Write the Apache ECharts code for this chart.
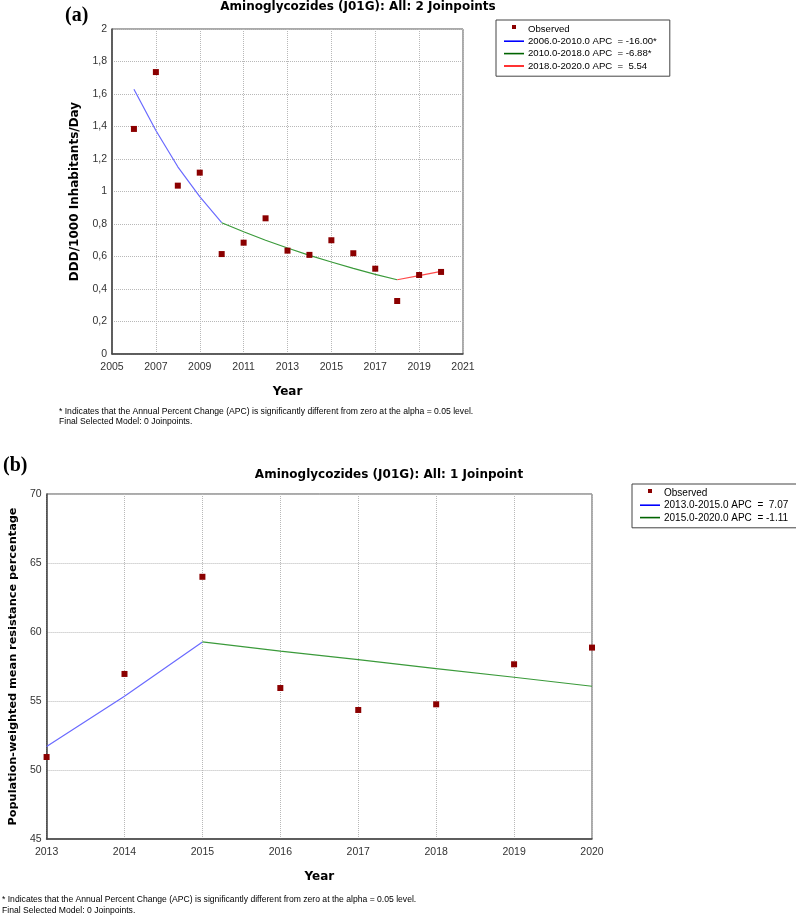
<!DOCTYPE html>
<html>
<head>
<meta charset="utf-8">
<script src="https://cdn.jsdelivr.net/npm/echarts@6/dist/echarts.min.js"></script>
<style>
html,body{margin:0;padding:0;background:#fff;}
#c{width:796px;height:917px;}
</style>
</head>
<body>
<div id="c"></div>
<script>
// ---- Panel (a) data ----
const yearsA = [2006, 2007, 2008, 2009, 2010, 2011, 2012, 2013, 2014, 2015, 2016, 2017, 2018, 2019, 2020];
const observedA = [1.385, 1.735, 1.036, 1.116, 0.615, 0.685, 0.835, 0.636, 0.61, 0.70, 0.62, 0.525, 0.326, 0.486, 0.505];
const seg1YearsA = [2006, 2007, 2008, 2009, 2010];
const seg1A = [1.629, 1.375, 1.152, 0.968, 0.808];
const seg2YearsA = [2010, 2011, 2012, 2013, 2014, 2015, 2016, 2017, 2018];
const seg2A = [0.808, 0.752, 0.700, 0.652, 0.607, 0.566, 0.527, 0.490, 0.457];
const seg3YearsA = [2018, 2019, 2020];
const seg3A = [0.457, 0.482, 0.508];
const legendA = ['Observed', '2006.0-2010.0 APC  = -16.00*', '2010.0-2018.0 APC  = -6.88*', '2018.0-2020.0 APC  =  5.54'];

// ---- Panel (b) data ----
const yearsB = [2013, 2014, 2015, 2016, 2017, 2018, 2019, 2020];
const observedB = [50.94, 56.96, 64.0, 55.94, 54.35, 54.76, 57.66, 58.87];
const seg1YearsB = [2013, 2014, 2015];
const seg1B = [51.7, 55.34, 59.28];
const seg2YearsB = [2015, 2016, 2017, 2018, 2019, 2020];
const seg2B = [59.28, 58.62, 58.0, 57.35, 56.72, 56.07];
const legendB = ['Observed ', '2013.0-2015.0 APC  =  7.07', '2015.0-2020.0 APC  = -1.11'];

const titleA = 'Aminoglycozides (J01G): All: 2 Joinpoints';
const titleB = 'Aminoglycozides (J01G): All: 1 Joinpoint';
const yNameA = 'DDD/1000 Inhabitants/Day';
const yNameB = 'Population-weighted mean resistance percentage';
const footnote1 = '* Indicates that the Annual Percent Change (APC) is significantly different from zero at the alpha = 0.05 level.';
const footnote2 = 'Final Selected Model: 0 Joinpoints.';

const zip = (xs, ys) => xs.map((x, i) => [x, ys[i]]);

const obsColor = '#8b0000';
const blueLine = '#6a6aff', greenLine = '#3a9a3a', redLine = '#ff4a4a';
const blueLeg = '#0000ff', greenLeg = '#006400', redLeg = '#ff0000';

const labelFont = 'Liberation Sans';
const boldFont = 'DejaVu Sans';

function axisCommon(nameSize) {
  return {
    axisLine: { show: true, lineStyle: { color: '#444', width: 1.5 } },
    axisTick: { show: false },
    splitLine: { show: true, lineStyle: { color: '#b8b8b8', type: [1, 1], width: 1 } },
    axisLabel: { color: '#333', fontFamily: labelFont, fontSize: 10.5, formatter: v => String(v) },
    nameTextStyle: { color: '#000', fontFamily: boldFont, fontWeight: 'bold', fontSize: nameSize }
  };
}

const markIcon = 'path://M0,0M20,10M8,1h4v4h-4z';
const lineIcon = 'path://M0,0M20,10M0,4h20v1.6h-20z';

const option = {
  animation: false,
  backgroundColor: '#fff',
  grid: [
    { left: 112, top: 29, width: 351, height: 325, show: true, borderColor: '#555', borderWidth: 1, backgroundColor: 'transparent' },
    { left: 35, top: 494, width: 557, height: 345, show: true, borderColor: '#555', borderWidth: 1, backgroundColor: 'transparent' }
  ],
  xAxis: [
    Object.assign(axisCommon(12), {
      type: 'value', gridIndex: 0, min: 2005, max: 2021, interval: 2,
      name: 'Year', nameLocation: 'middle', nameGap: 32
    }),
    Object.assign(axisCommon(12), {
      type: 'value', gridIndex: 1, min: 2013, max: 2020, interval: 1,
      name: 'Year', nameLocation: 'middle', nameGap: 32
    })
  ],
  yAxis: [
    Object.assign(axisCommon(12), {
      type: 'value', gridIndex: 0, min: 0, max: 2, interval: 0.2,
      name: yNameA, nameLocation: 'middle', nameGap: 31
    }),
    Object.assign(axisCommon(11.3), {
      type: 'value', gridIndex: 1, min: 45, max: 70, interval: 5,
      name: yNameB, nameLocation: 'middle', nameGap: 20
    })
  ],
  legend: [
    {
      orient: 'vertical', left: 496, top: 20,
      padding: [4, 13, 5, 8], itemGap: 2.4, itemWidth: 20, itemHeight: 10,
      borderColor: '#444', borderWidth: 1, backgroundColor: '#fff',
      textStyle: { fontFamily: labelFont, fontSize: 9.6, color: '#000', padding: [0, 0, 0, -1] },
      selectedMode: false,
      data: [
        { name: legendA[0], icon: markIcon },
        { name: legendA[1], icon: lineIcon },
        { name: legendA[2], icon: lineIcon },
        { name: legendA[3], icon: lineIcon }
      ]
    },
    {
      orient: 'vertical', left: 632, top: 484,
      padding: [4, 70, 5, 8], itemGap: 2.4, itemWidth: 20, itemHeight: 10,
      borderColor: '#444', borderWidth: 1, backgroundColor: '#fff',
      textStyle: { fontFamily: labelFont, fontSize: 10, color: '#000', padding: [0, 0, 0, -1] },
      selectedMode: false,
      data: [
        { name: legendB[0], icon: markIcon },
        { name: legendB[1], icon: lineIcon },
        { name: legendB[2], icon: lineIcon }
      ]
    }
  ],
  series: [
    { name: legendA[1], type: 'line', xAxisIndex: 0, yAxisIndex: 0, data: zip(seg1YearsA, seg1A),
      showSymbol: false, symbol: 'none', lineStyle: { color: blueLine, width: 1.2 }, itemStyle: { color: blueLeg }, z: 2 },
    { name: legendA[2], type: 'line', xAxisIndex: 0, yAxisIndex: 0, data: zip(seg2YearsA, seg2A),
      showSymbol: false, symbol: 'none', lineStyle: { color: greenLine, width: 1.2 }, itemStyle: { color: greenLeg }, z: 2 },
    { name: legendA[3], type: 'line', xAxisIndex: 0, yAxisIndex: 0, data: zip(seg3YearsA, seg3A),
      showSymbol: false, symbol: 'none', lineStyle: { color: redLine, width: 1.2 }, itemStyle: { color: redLeg }, z: 2 },
    { name: legendA[0], type: 'scatter', xAxisIndex: 0, yAxisIndex: 0, data: zip(yearsA, observedA),
      symbol: 'rect', symbolSize: 6, itemStyle: { color: obsColor, opacity: 1 }, z: 3 },

    { name: legendB[1], type: 'line', xAxisIndex: 1, yAxisIndex: 1, data: zip(seg1YearsB, seg1B),
      showSymbol: false, symbol: 'none', lineStyle: { color: blueLine, width: 1.2 }, itemStyle: { color: blueLeg }, z: 2 },
    { name: legendB[2], type: 'line', xAxisIndex: 1, yAxisIndex: 1, data: zip(seg2YearsB, seg2B),
      showSymbol: false, symbol: 'none', lineStyle: { color: greenLine, width: 1.2 }, itemStyle: { color: greenLeg }, z: 2 },
    { name: legendB[0], type: 'scatter', xAxisIndex: 1, yAxisIndex: 1, data: zip(yearsB, observedB),
      symbol: 'rect', symbolSize: 6, itemStyle: { color: obsColor, opacity: 1 }, z: 3 }
  ],
  graphic: [
    { type: 'text', left: 65, top: 6, style: { text: '(a)', font: 'bold 20px "Liberation Serif"', fill: '#000' } },
    { type: 'text', left: 3, top: 456, style: { text: '(b)', font: 'bold 20px "Liberation Serif"', fill: '#000' } },
    { type: 'text', x: 358, y: 7, style: { text: titleA, font: 'bold 12px "DejaVu Sans"', fill: '#000', textAlign: 'center', textVerticalAlign: 'middle' } },
    { type: 'text', x: 389, y: 475, style: { text: titleB, font: 'bold 12px "DejaVu Sans"', fill: '#000', textAlign: 'center', textVerticalAlign: 'middle' } },
    { type: 'text', x: 59, y: 412, style: { text: footnote1, font: '8.6px "Liberation Sans"', fill: '#000', textVerticalAlign: 'middle' } },
    { type: 'text', x: 59, y: 422, style: { text: footnote2, font: '8.6px "Liberation Sans"', fill: '#000', textVerticalAlign: 'middle' } },
    { type: 'text', x: 2, y: 900, style: { text: footnote1, font: '8.6px "Liberation Sans"', fill: '#000', textVerticalAlign: 'middle' } },
    { type: 'text', x: 2, y: 911, style: { text: footnote2, font: '8.6px "Liberation Sans"', fill: '#000', textVerticalAlign: 'middle' } }
  ]
};

// comma decimal labels for panel (a) y axis
option.yAxis[0].axisLabel.formatter = v => String(Math.round(v * 10) / 10).replace('.', ',');
option.yAxis[0].axisLabel.margin = 5;
option.yAxis[1].axisLabel.margin = 5;
option.xAxis[0].axisLabel.margin = 8;
option.xAxis[1].axisLabel.margin = 8;

const chart = echarts.init(document.getElementById('c'), null, { renderer: 'canvas' });
chart.setOption(option);
</script>
</body>
</html>
